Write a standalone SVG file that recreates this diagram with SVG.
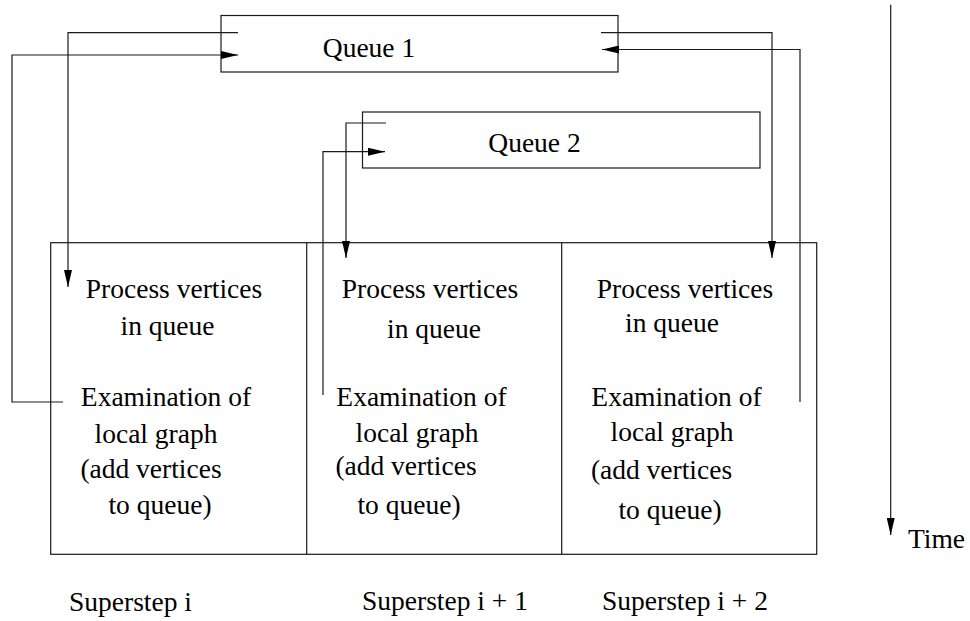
<svg xmlns="http://www.w3.org/2000/svg" width="970" height="621" viewBox="0 0 970 621">
<style>
.box{fill:none;stroke:#1a1a1a;stroke-width:1.2}
.ln{fill:none;stroke:#1a1a1a;stroke-width:1.2}
.t{font-family:'Liberation Serif','Times New Roman',Times,'DejaVu Serif',serif;font-size:27.5px;fill:#000;text-anchor:middle}
</style>
<defs>
<marker id="ah" viewBox="0 0 17 8" refX="17" refY="4" markerWidth="17" markerHeight="8" markerUnits="userSpaceOnUse" orient="auto">
<path d="M0,0 L17,4 L0,8 z" fill="#000"/>
</marker>
</defs>
<rect width="970" height="621" fill="#fff"/>
<g class="t" font-family="Liberation Serif, Times New Roman, DejaVu Serif, serif">
<g id="queue1">
<rect class="box" x="221" y="15.5" width="397" height="56.5"/>
<text x="369" y="56.7">Queue 1</text>
</g>
<g id="queue2">
<rect class="box" x="362.5" y="112" width="397.5" height="56"/>
<text x="534.5" y="151.7">Queue 2</text>
</g>
<g id="supersteps">
<rect class="box" x="50.7" y="242.7" width="766" height="311.6"/>
<line class="ln" x1="306.7" y1="242.7" x2="306.7" y2="554.3"/>
<line class="ln" x1="561.7" y1="242.7" x2="561.7" y2="554.3"/>
</g>
<g id="step1">
<text x="174" y="298.3">Process vertices</text>
<text x="167.5" y="335">in queue</text>
<text x="166" y="406">Examination of</text>
<text x="156" y="442.7">local graph</text>
<text x="151" y="478">(add vertices</text>
<text x="160" y="514">to queue)</text>
<text x="130.5" y="611">Superstep i</text>
</g>
<g id="step2">
<text x="430" y="298.3">Process vertices</text>
<text x="434" y="338">in queue</text>
<text x="421.5" y="406">Examination of</text>
<text x="417" y="441.7">local graph</text>
<text x="406" y="475">(add vertices</text>
<text x="409" y="514">to queue)</text>
<text x="445" y="610">Superstep i + 1</text>
</g>
<g id="step3">
<text x="685" y="298.3">Process vertices</text>
<text x="672" y="331.7">in queue</text>
<text x="676.5" y="406">Examination of</text>
<text x="672" y="440.7">local graph</text>
<text x="661.5" y="479">(add vertices</text>
<text x="670" y="519">to queue)</text>
<text x="685" y="610">Superstep i + 2</text>
</g>
<g id="time">
<line class="ln" x1="890.7" y1="4.7" x2="890.7" y2="535" marker-end="url(#ah)"/>
<text x="936.5" y="548">Time</text>
</g>
</g>
<g id="connectors">
<path class="ln" d="M238,32.7 H68 V287" marker-end="url(#ah)"/>
<path class="ln" d="M63,402 H12 V55 H238" marker-end="url(#ah)"/>
<path class="ln" d="M601,32.7 H772 V258" marker-end="url(#ah)"/>
<path class="ln" d="M800,402 V49.5 H602" marker-end="url(#ah)"/>
<path class="ln" d="M386,123 H346 V258" marker-end="url(#ah)"/>
<path class="ln" d="M323,395 V151.7 H385" marker-end="url(#ah)"/>
</g>
</svg>
